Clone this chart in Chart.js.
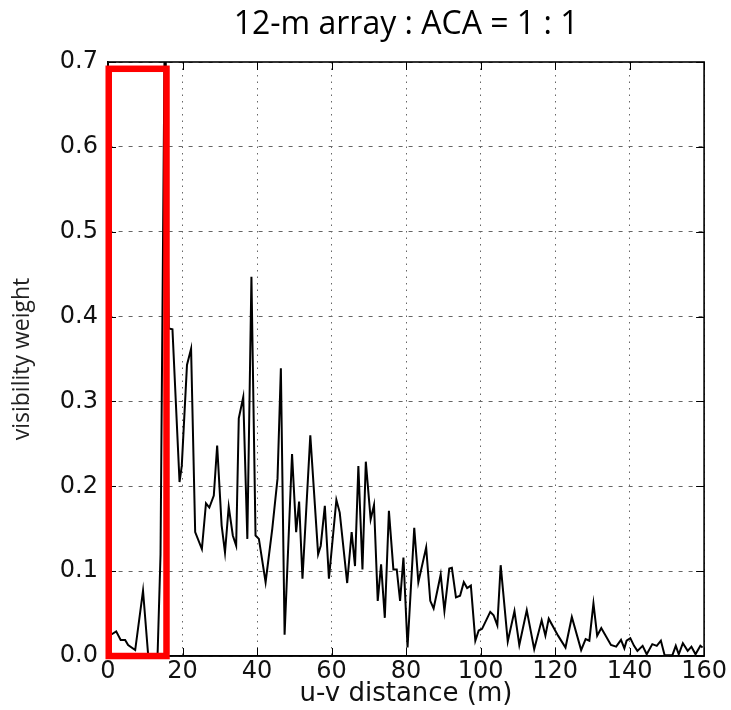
<!DOCTYPE html>
<html>
<head>
<meta charset="utf-8">
<script src="https://cdn.jsdelivr.net/npm/chart.js@4.4.1/dist/chart.umd.min.js"></script>
<style>
  html, body { margin: 0; padding: 0; background: #fff; }
  canvas { display: block; }
</style>
</head>
<body>
<canvas id="weights" width="731" height="710"></canvas>
<script>
// u-v distance (m) vs visibility weight
const uvDistance = [
    0.8, 2.2, 3.4, 4.6, 5.4, 7.3, 9.4, 10.8, 13.3, 14.1, 15.3, 16.3, 17.3, 19.2, 19.8,
    21.2, 22.3, 23.4, 25.2, 26.3, 27.2, 28.4, 29.3, 30.5, 31.4, 32.4, 33.5, 34.4, 35.1,
    36.3, 37.4, 38.5, 39.6, 40.5, 42.3, 44.1, 45.5, 46.4, 47.4, 49.4, 50.5, 51.3, 52.2,
    54.3, 56.4, 57.1, 58.2, 59.3, 61.3, 62.2, 64.2, 65.4, 66.3, 67.2, 68.3, 69.2, 70.5,
    71.4, 72.4, 73.3, 74.3, 75.4, 76.6, 77.5, 78.4, 79.3, 80.4, 82.2, 83.3, 85.4, 86.5,
    87.4, 89.3, 90.3, 91.6, 92.3, 93.4, 94.5, 95.5, 96.4, 97.4, 98.6, 99.5, 100.4, 102.6,
    103.5, 104.5, 105.4, 107.3, 109.1, 110.4, 112.4, 114.4, 116.4, 117.4, 118.3, 120.8,
    122.8, 124.5, 127.0, 128.2, 129.2, 130.3, 131.3, 132.4, 135.0, 136.4, 137.7, 138.6,
    139.2, 140.2, 141.2, 142.1, 143.5, 144.6, 146.1, 147.3, 148.4, 149.4, 151.5, 152.4,
    153.2, 154.3, 155.6, 156.6, 157.7, 159.0, 159.6
];
const visWeight = [
    0.025, 0.029, 0.019, 0.019, 0.013, 0.007, 0.077, 0.0, 0.0, 0.12, 0.78, 0.386, 0.385, 0.205, 0.224,
    0.343, 0.362, 0.146, 0.126, 0.180, 0.175, 0.189, 0.248, 0.154, 0.122, 0.176, 0.142, 0.130, 0.280,
    0.305, 0.138, 0.447, 0.142, 0.138, 0.087, 0.150, 0.209, 0.339, 0.025, 0.238, 0.146, 0.182, 0.091,
    0.260, 0.120, 0.130, 0.177, 0.091, 0.184, 0.169, 0.086, 0.146, 0.106, 0.224, 0.102, 0.229, 0.161,
    0.178, 0.065, 0.108, 0.045, 0.171, 0.102, 0.102, 0.065, 0.116, 0.010, 0.151, 0.087, 0.128, 0.065,
    0.056, 0.096, 0.053, 0.103, 0.104, 0.069, 0.071, 0.087, 0.080, 0.083, 0.018, 0.030, 0.032, 0.052,
    0.048, 0.036, 0.107, 0.017, 0.053, 0.013, 0.054, 0.008, 0.042, 0.024, 0.044, 0.024,
    0.010, 0.046, 0.007, 0.020, 0.018, 0.062, 0.024, 0.033, 0.013, 0.011, 0.019, 0.009,
    0.018, 0.021, 0.012, 0.006, 0.012, 0.002, 0.014, 0.012, 0.018, 0.001, 0.001, 0.012,
    0.002, 0.015, 0.006, 0.011, 0.002, 0.012, 0.010
];
const xTickValues = [0, 20, 40, 60, 80, 100, 120, 140, 160];
const yTickValues = [0.0, 0.1, 0.2, 0.3, 0.4, 0.5, 0.6, 0.7];
// highlighted short-spacing region (red box), in data units
const boxU = [0.2, 15.7];
const boxW = [0.0, 0.692];

// closed frame + inward ticks on all four sides (matplotlib classic look)
const frameTicks = {
    id: 'frameTicks',
    afterDatasetsDraw(chart) {
        const { ctx, chartArea: a, scales: { x, y } } = chart;
        ctx.save();
        ctx.strokeStyle = '#000';
        ctx.lineWidth = 1;
        ctx.beginPath();
        xTickValues.forEach(v => {
            const px = Math.round(x.getPixelForValue(v)) + 0.5;
            ctx.moveTo(px, a.bottom); ctx.lineTo(px, a.bottom - 8);
            ctx.moveTo(px, a.top); ctx.lineTo(px, a.top + 8);
        });
        yTickValues.forEach(v => {
            const py = Math.round(y.getPixelForValue(v)) + 0.5;
            ctx.moveTo(a.left, py); ctx.lineTo(a.left + 8, py);
            ctx.moveTo(a.right, py); ctx.lineTo(a.right - 8, py);
        });
        ctx.stroke();
        ctx.lineWidth = 1.6;
        ctx.strokeRect(a.left, a.top, a.right - a.left, a.bottom - a.top);
        ctx.restore();
    }
};

const redBox = {
    id: 'redBox',
    afterDraw(chart) {
        const { ctx, scales: { x, y } } = chart;
        const x0 = x.getPixelForValue(boxU[0]), x1 = x.getPixelForValue(boxU[1]);
        const y0 = y.getPixelForValue(boxW[0]), y1 = y.getPixelForValue(boxW[1]);
        ctx.save();
        ctx.strokeStyle = '#ff0000';
        ctx.lineWidth = 6.5;
        ctx.strokeRect(x0, y1, x1 - x0, y0 - y1);
        ctx.restore();
    }
};

new Chart(document.getElementById('weights'), {
    type: 'line',
    data: {
        datasets: [{
            data: uvDistance.map((u, i) => ({ x: u, y: visWeight[i] })),
            borderColor: '#000',
            borderWidth: 2,
            pointRadius: 0,
            tension: 0,
            clip: 0
        }]
    },
    options: {
        responsive: false,
        animation: false,
        devicePixelRatio: 1,
        layout: { padding: { left: 0, right: 24, top: 0, bottom: 2 } },
        plugins: {
            legend: { display: false },
            tooltip: { enabled: false },
            title: {
                display: true,
                text: '12-m array : ACA = 1 : 1',
                fullSize: false,
                color: '#000',
                font: { family: 'Open Sans', size: 32, weight: 'normal', lineHeight: 1.2 },
                padding: { top: 6, bottom: 17.6 }
            }
        },
        scales: {
            x: {
                type: 'linear', min: 0, max: 160,
                afterBuildTicks: s => { s.ticks = xTickValues.map(v => ({ value: v })); },
                afterFit: s => { s.height = 52; },
                grid: { color: '#666', lineWidth: 1, drawTicks: false },
                border: { color: '#000', width: 1.6, dash: [1.5, 5] },
                ticks: {
                    color: '#111', padding: 4, maxRotation: 0,
                    font: { family: 'DejaVu Sans', size: 24, lineHeight: 1 }
                },
                title: {
                    display: true, text: 'u-v distance (m)', color: '#111',
                    font: { family: 'DejaVu Sans', size: 26, lineHeight: 1 },
                    padding: { top: 0, bottom: 1 }
                }
            },
            y: {
                type: 'linear', min: 0, max: 0.7,
                afterBuildTicks: s => { s.ticks = yTickValues.map(v => ({ value: v })); },
                afterFit: s => { s.width = 108; },
                grid: { color: '#666', lineWidth: 1, drawTicks: false },
                border: { color: '#000', width: 1.6, dash: [4, 6] },
                ticks: {
                    color: '#111', padding: 10,
                    callback: v => v.toFixed(1),
                    font: { family: 'DejaVu Sans', size: 24, lineHeight: 1 }
                },
                title: {
                    display: true, text: 'visibility weight', color: '#222',
                    font: { family: 'Open Sans', size: 23, lineHeight: 1.2 },
                    padding: { top: 9, bottom: 0 }
                }
            }
        }
    },
    plugins: [frameTicks, redBox]
});
</script>
</body>
</html>
